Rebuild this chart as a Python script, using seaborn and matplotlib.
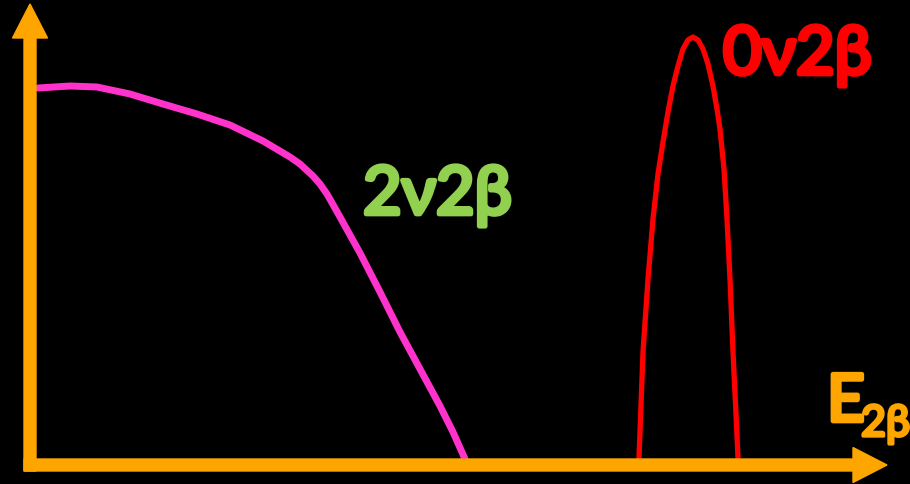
import matplotlib
matplotlib.use("Agg")
import matplotlib.pyplot as plt
import matplotlib.patheffects as pe
import pandas as pd
import seaborn as sns

# Spectrum shapes in arbitrary energy / count units (origin at the axes corner)
two_nu_energy = [8, 40, 67, 100, 133, 167, 200, 233, 260, 270, 283, 290, 297,
                 310, 330, 350, 370, 390, 410, 423, 435]
two_nu_counts = [376, 378, 377, 370, 360, 350, 339, 323, 307, 300, 288, 280,
                 270, 247, 211, 172, 132, 95, 58, 32, 5]

zero_nu_energy = [609, 613, 618, 623, 628, 633, 638, 643, 648, 653, 658, 663,
                  668, 673, 678, 683, 687, 690, 694, 697, 700, 703, 706, 708]
zero_nu_counts = [6, 112, 185, 245, 290, 322, 352, 378, 398, 415, 424, 427,
                  424, 415, 400, 378, 355, 335, 295, 245, 185, 112, 50, 6]

labels = ["2ν2β", "0ν2β"]
axis_label = "E"
axis_sub = "2β"

sns.set_theme(style="dark", rc={"axes.facecolor": "black",
                                "figure.facecolor": "black"})
plt.rcParams["font.family"] = ["Lato", "DejaVu Sans"]

orange = "#FFA500"
pink = "#FF33CC"
red = "#FF0000"
green = "#92D050"

fig = plt.figure(figsize=(9.1, 4.85), dpi=100)
ax = fig.add_axes([0, 0, 1, 1])
ax.set_xlim(-30, 880)
ax.set_ylim(-20, 465)
ax.set_axis_off()

two_df = pd.DataFrame({"E": two_nu_energy, "N": two_nu_counts})
zero_df = pd.DataFrame({"E": zero_nu_energy, "N": zero_nu_counts})

sns.lineplot(data=two_df, x="E", y="N", ax=ax, color=pink, linewidth=5,
             sort=False, estimator=None, solid_joinstyle="round")
sns.lineplot(data=zero_df, x="E", y="N", ax=ax, color=red, linewidth=3.8,
             sort=False, estimator=None, solid_joinstyle="round")

# Axes drawn as thick arrows
ax.arrow(0, -7, 0, 467, width=12, head_width=35, head_length=34,
         length_includes_head=True, color=orange, zorder=5)
ax.arrow(-6, -1, 863, 0, width=12, head_width=35, head_length=34,
         length_includes_head=True, color=orange, zorder=5)


def heavy(color, w):
    # thicken the glyph strokes with an outline in the same colour
    return [pe.withStroke(linewidth=w, foreground=color)]


ax.text(333, 250, labels[0], color=green, ha="left", va="baseline",
        fontsize=48, path_effects=heavy(green, 3.4))
ax.text(693, 390, labels[1], color=red, ha="left", va="baseline",
        fontsize=48, path_effects=heavy(red, 3.4))
ax.text(797, 43, axis_label, color=orange, ha="left", va="baseline",
        fontsize=47, path_effects=heavy(orange, 3.4))
ax.text(831, 28, axis_sub, color=orange, ha="left", va="baseline",
        fontsize=31, path_effects=heavy(orange, 2.4))

fig.savefig("out.png", dpi=100, facecolor="black")
